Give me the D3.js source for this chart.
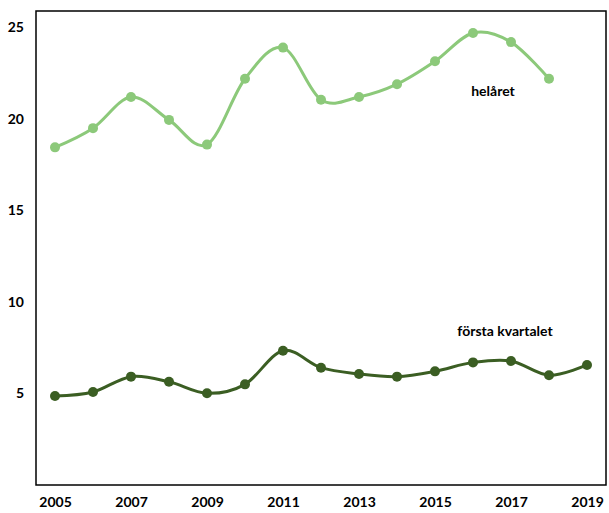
<!DOCTYPE html>
<html>
<head>
<meta charset="utf-8">
<script src="https://cdn.jsdelivr.net/npm/d3@7"></script>
<style>
  body { margin: 0; background: #fff; }
  text { font-family: Lato, "Open Sans", sans-serif; font-weight: bold; fill: #000; }
</style>
</head>
<body>
<div class="chart"></div>
<script>
// Data
var years = [2005, 2006, 2007, 2008, 2009, 2010, 2011, 2012, 2013, 2014, 2015, 2016, 2017, 2018, 2019];
var helaret = [18.45, 19.5, 21.2, 19.95, 18.6, 22.2, 23.9, 21.05, 21.2, 21.9, 23.15, 24.7, 24.2, 22.2, null];
var forstaKvartalet = [4.86, 5.08, 5.92, 5.64, 5.01, 5.5, 7.34, 6.41, 6.07, 5.92, 6.21, 6.7, 6.78, 6.0, 6.56];
var yTicks = [5, 10, 15, 20, 25];
var xTickYears = [2005, 2007, 2009, 2011, 2013, 2015, 2017, 2019];

var svgWidth = 609;
var svgHeight = 513;

// plot frame
var margin = { top: 11, right: 3, bottom: 28, left: 36 };
var width = svgWidth - margin.left - margin.right;
var height = svgHeight - margin.top - margin.bottom;

var svg = d3.select(".chart")
  .append("svg")
  .attr("width", svgWidth)
  .attr("height", svgHeight);

var chartGroup = svg.append("g")
  .attr("transform", `translate(${margin.left}, ${margin.top})`);

var xScale = d3.scalePoint()
  .domain(years)
  .range([0, width])
  .padding(0.5);

var yScale = d3.scaleLinear()
  .domain([0, 25.9])
  .range([height, 0]);

// frame
chartGroup.append("rect")
  .attr("x", 0)
  .attr("y", 0)
  .attr("width", width)
  .attr("height", height)
  .attr("fill", "none")
  .attr("stroke", "#000")
  .attr("stroke-width", 1.5);

// y axis labels
var leftAxis = d3.axisLeft(yScale)
  .tickValues(yTicks)
  .tickSize(0)
  .tickPadding(12);

var yAxis = chartGroup.append("g").call(leftAxis);
yAxis.select(".domain").remove();
yAxis.selectAll("text")
  .attr("font-size", 14)
  .attr("font-family", "Lato, sans-serif")
  .attr("fill", "#000");

// x axis labels
var bottomAxis = d3.axisBottom(xScale)
  .tickValues(xTickYears)
  .tickSize(0)
  .tickPadding(12);

var xAxis = chartGroup.append("g")
  .attr("transform", `translate(0, ${height})`)
  .call(bottomAxis);
xAxis.select(".domain").remove();
xAxis.selectAll("text")
  .attr("font-size", 14)
  .attr("font-family", "Lato, sans-serif")
  .attr("fill", "#000");

// draw one series
function drawSeries(values, color) {
  var points = years.map((y, i) => ({ year: y, value: values[i] }))
    .filter(d => d.value !== null);

  var line = d3.line()
    .x(d => xScale(d.year))
    .y(d => yScale(d.value))
    .curve(d3.curveCardinal.tension(0));

  chartGroup.append("path")
    .datum(points)
    .attr("d", line)
    .attr("fill", "none")
    .attr("stroke", color)
    .attr("stroke-width", 3);

  chartGroup.selectAll(null)
    .data(points)
    .enter()
    .append("circle")
    .attr("cx", d => xScale(d.year))
    .attr("cy", d => yScale(d.value))
    .attr("r", 5)
    .attr("fill", color);
}

drawSeries(helaret, "#8cc97a");
drawSeries(forstaKvartalet, "#3b5e23");

// series labels
chartGroup.append("text")
  .attr("x", 493 - margin.left)
  .attr("y", 96 - margin.top)
  .attr("text-anchor", "middle")
  .attr("font-size", 14)
  .text("helåret");

chartGroup.append("text")
  .attr("x", 505 - margin.left)
  .attr("y", 336 - margin.top)
  .attr("text-anchor", "middle")
  .attr("font-size", 14)
  .text("första kvartalet");
</script>
</body>
</html>
